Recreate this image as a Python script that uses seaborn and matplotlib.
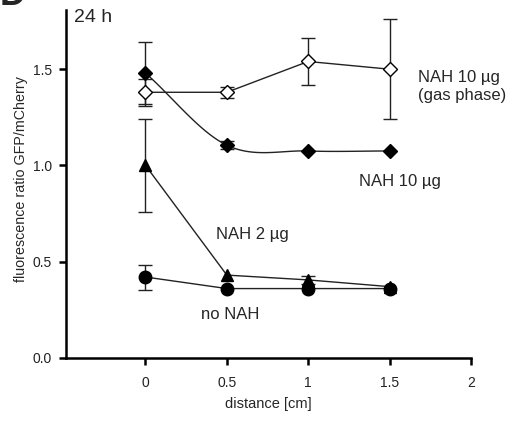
import numpy as np
import pandas as pd
import matplotlib
matplotlib.use("Agg")
import matplotlib.pyplot as plt
import seaborn as sns

# ---- data ----
distance = [0.0, 0.5, 1.0, 1.5]
gas10_vals = [1.38, 1.38, 1.54, 1.50]
gas10_err = [0.07, 0.03, 0.12, 0.26]
nah10_vals = [1.48, 1.105, 1.075, 1.075]
nah10_err = [0.16, 0.02, 0.0, 0.0]
nah2_vals = [1.00, 0.43, 0.405, 0.37]
nah2_err = [0.24, 0.0, 0.02, 0.0]
nonah_vals = [0.42, 0.36, 0.36, 0.36]
nonah_err = [0.065, 0.0, 0.0, 0.0]
x_ticks = [0, 0.5, 1, 1.5, 2]
x_tick_labels = ["0", "0.5", "1", "1.5", "2"]
y_ticks = [0.0, 0.5, 1.0, 1.5]
y_tick_labels = ["0.0", "0.5", "1.0", "1.5"]

sns.set_style("ticks")
plt.rcParams['font.family'] = ['Liberation Sans', 'DejaVu Sans']

fig = plt.figure(figsize=(5.18, 4.21), dpi=100)
ax = fig.add_axes([0.127, 0.150, 0.782, 0.826])

lc = "#222222"


def catmull(xs, ys, n=40):
    xs = np.asarray(xs, float)
    ys = np.asarray(ys, float)
    m = np.gradient(ys, xs)
    m[0] = (ys[1] - ys[0]) / (xs[1] - xs[0])
    m[-1] = (ys[-1] - ys[-2]) / (xs[-1] - xs[-2])
    outx, outy = [], []
    for i in range(len(xs) - 1):
        h = xs[i + 1] - xs[i]
        t = np.linspace(0, 1, n)
        h00 = 2 * t**3 - 3 * t**2 + 1
        h10 = t**3 - 2 * t**2 + t
        h01 = -2 * t**3 + 3 * t**2
        h11 = t**3 - t**2
        outx.append(xs[i] + t * h)
        outy.append(h00 * ys[i] + h10 * h * m[i] + h01 * ys[i + 1] + h11 * h * m[i + 1])
    return np.concatenate(outx), np.concatenate(outy)


def errs(vals, err):
    ex = [d for d, e in zip(distance, err) if e > 0]
    ey = [v for v, e in zip(vals, err) if e > 0]
    ee = [e for e in err if e > 0]
    ax.errorbar(ex, ey, yerr=ee, fmt="none", ecolor=lc, elinewidth=1.0,
                capsize=5, capthick=1.0, zorder=2)


# error bars
errs(gas10_vals, gas10_err)
errs(nah10_vals, nah10_err)
errs(nah2_vals, nah2_err)
errs(nonah_vals, nonah_err)

# lines
df_gas = pd.DataFrame({"x": distance, "y": gas10_vals})
df_2 = pd.DataFrame({"x": distance, "y": nah2_vals})
df_no = pd.DataFrame({"x": distance, "y": nonah_vals})
sns.lineplot(data=df_gas, x="x", y="y", ax=ax, color=lc, linewidth=1.0, zorder=3)
sns.lineplot(data=df_2, x="x", y="y", ax=ax, color=lc, linewidth=1.0, zorder=3)
sns.lineplot(data=df_no, x="x", y="y", ax=ax, color=lc, linewidth=1.0, zorder=3)
cx, cy = catmull(distance, nah10_vals)
ax.plot(cx, cy, color=lc, linewidth=1.0, zorder=3)

# markers
ax.plot(distance, gas10_vals, linestyle="none", marker="D", markersize=7.5,
        markerfacecolor="white", markeredgecolor="black", markeredgewidth=1.0, zorder=4)
ax.plot(distance, nah10_vals, linestyle="none", marker="D", markersize=7.5,
        markerfacecolor="black", markeredgecolor="black", zorder=4)
ax.plot(distance, nah2_vals, linestyle="none", marker="^", markersize=9,
        markerfacecolor="black", markeredgecolor="black", zorder=4)
ax.plot(distance, nonah_vals, linestyle="none", marker="o", markersize=9,
        markerfacecolor="black", markeredgecolor="black", zorder=4)

# annotations
fs = 12
ax.text(1.674, 1.41, "NAH 10 \u00b5g\n(gas phase)", fontsize=fs, ha="left", va="center",
        linespacing=1.2)
ax.text(1.563, 0.914, "NAH 10 \u00b5g", fontsize=fs, ha="center", va="center")
ax.text(0.658, 0.639, "NAH 2 \u00b5g", fontsize=fs, ha="center", va="center")
ax.text(0.523, 0.223, "no NAH", fontsize=fs, ha="center", va="center")
ax.text(-0.437, 1.77, "24 h", fontsize=14, ha="left", va="center")
fig.text(0.0, 1.01, "D", fontsize=26, fontweight="bold", ha="left", va="center")

ax.set_xlim(-0.49, 2.0)
ax.set_ylim(0, 1.807)
ax.set_xticks(x_ticks)
ax.set_xticklabels(x_tick_labels)
ax.set_yticks(y_ticks)
ax.set_yticklabels(y_tick_labels)
ax.set_xlabel("distance [cm]", fontsize=10.5)
ax.set_ylabel("fluorescence ratio GFP/mCherry", fontsize=10.25)
ax.xaxis.set_label_coords(0.5, -0.112)
ax.yaxis.set_label_coords(-0.094, 0.515)
ax.tick_params(axis="both", labelsize=10, width=1.8, length=5, direction="out",
               color="black", labelcolor="#222222")
ax.tick_params(axis="x", pad=8)
ax.tick_params(axis="y", pad=5)
for s in ["top", "right"]:
    ax.spines[s].set_visible(False)
for s in ["left", "bottom"]:
    ax.spines[s].set_linewidth(1.8)
    ax.spines[s].set_color("black")

fig.savefig("out.png", dpi=100)
